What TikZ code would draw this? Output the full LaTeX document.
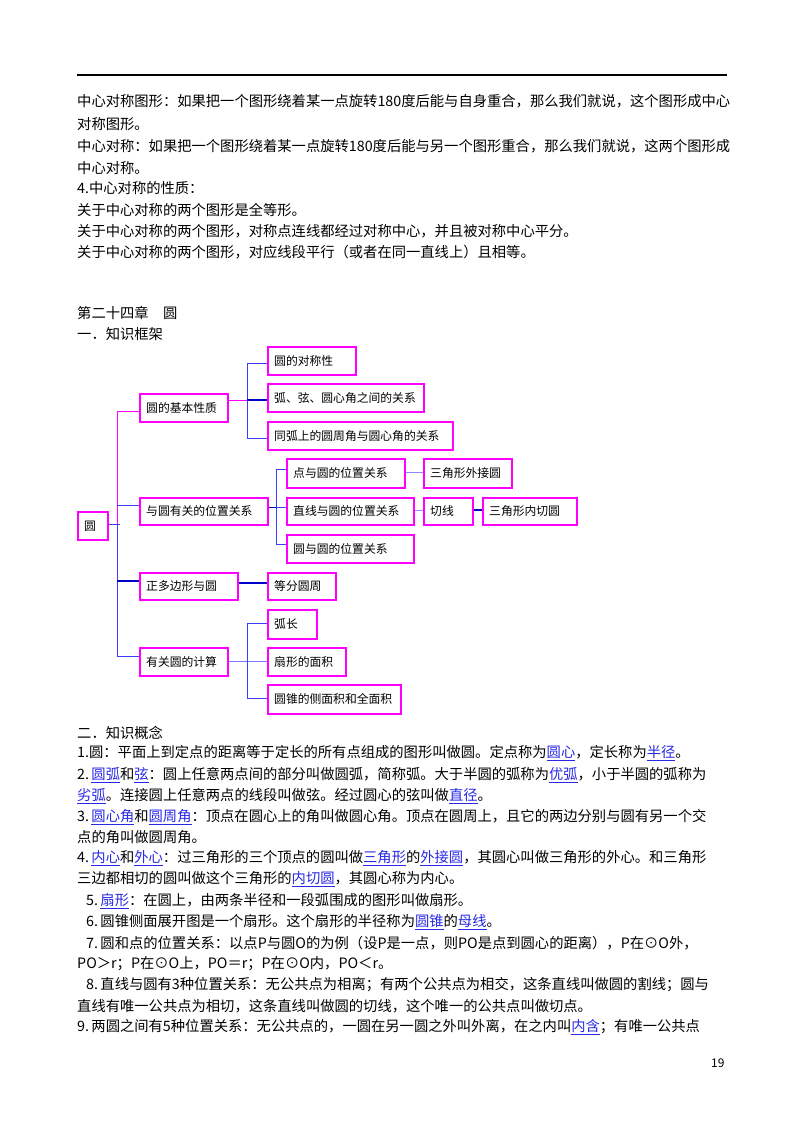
\documentclass[tikz,border=0pt]{standalone}
\usepackage{fontspec}
\setmainfont{Noto Sans CJK SC}
\newcommand{\lk}[1]{\textcolor{linkblue}{\underline{#1}}}
\definecolor{linkblue}{RGB}{40,40,230}
\definecolor{bx}{RGB}{255,0,255}
\definecolor{bl}{RGB}{60,60,255}
\definecolor{dbl}{RGB}{0,0,200}
\begin{document}
\begin{tikzpicture}[x=1pt,y=-1pt,
 ln/.style={anchor=west,inner sep=0pt,font=\fontsize{14.3}{15}\selectfont},
 bxs/.style={draw=bx,line width=1.5pt,anchor=north west,inner sep=0pt,font=\fontsize{12}{12}\selectfont},
 cb/.style={bl,line width=1pt},
 cp/.style={bx,line width=1pt}]
\useasboundingbox (0,0) rectangle (800,1132);
\fill[white] (0,0) rectangle (800,1132);
\draw[line width=1.2pt] (77,75) -- (727,75);
\node[ln] (t1) at (77,101) {中心对称图形：如果把一个图形绕着某一点旋转180度后能与自身重合，那么我们就说，这个图形成中心};
\node[ln] (t2) at (77,124) {对称图形。};
\node[ln] (t3) at (77,146) {中心对称：如果把一个图形绕着某一点旋转180度后能与另一个图形重合，那么我们就说，这两个图形成};
\node[ln] (t4) at (77,168) {中心对称。};
\node[ln] (t5) at (77,188) {4.中心对称的性质：};
\node[ln] (t6) at (77,210) {关于中心对称的两个图形是全等形。};
\node[ln] (t7) at (77,231) {关于中心对称的两个图形，对称点连线都经过对称中心，并且被对称中心平分。};
\node[ln] (t8) at (77,252) {关于中心对称的两个图形，对应线段平行（或者在同一直线上）且相等。};
\node[ln] (c1) at (77,313) {第二十四章\quad 圆};
\node[ln] (c2) at (77,334) {一．知识框架};
% boxes
\newcommand{\bxn}[6]{\node[bxs,minimum width=#4-#2,minimum height=#5-#3] (#1) at (#2,#3) {};
 \node[anchor=west,inner sep=0pt,font=\fontsize{11.8}{12}\selectfont] at ([xshift=7pt]#1.west) {#6};}
\bxn{y}{77}{511}{107}{539}{圆}
\bxn{a}{139}{393}{227}{421}{圆的基本性质}
\bxn{b}{139}{497}{267}{524}{与圆有关的位置关系}
\bxn{c}{139}{572}{237}{599}{正多边形与圆}
\bxn{d}{139}{647}{227}{675}{有关圆的计算}
\bxn{a1}{267}{346}{355}{374}{圆的对称性}
\bxn{a2}{267}{383}{423}{411}{弧、弦、圆心角之间的关系}
\bxn{a3}{267}{421}{452}{449}{同弧上的圆周角与圆心角的关系}
\bxn{b1}{286}{458}{404}{487}{点与圆的位置关系}
\bxn{b11}{423}{458}{511}{487}{三角形外接圆}
\bxn{b2}{286}{497}{413}{524}{直线与圆的位置关系}
\bxn{b21}{423}{497}{472}{524}{切线}
\bxn{b22}{482}{497}{576}{524}{三角形内切圆}
\bxn{b3}{286}{534}{413}{562}{圆与圆的位置关系}
\bxn{c1b}{267}{572}{335}{599}{等分圆周}
\bxn{d1}{267}{609}{316}{638}{弧长}
\bxn{d2}{267}{647}{345}{675}{扇形的面积}
\bxn{d3}{267}{684}{400}{713}{圆锥的侧面积和全面积}
% connectors
\coordinate (tk) at (117,524);
\draw[cb] (y.east |- tk) -- (120,524);
\draw[cp] (117,524) -- (117,411) -- (a.west |- 0,411);
\draw[cb] (117,524) -- (117,656) -- (d.west |- 0,656);
\draw[cb] (117,505) -- (b.west |- 0,505);
\draw[dbl,line width=1.2pt] (117,581) -- (c.west |- 0,581);
\draw[cp] (a.east |- 0,400) -- (247,400);
\draw[cb] (267,363) -- (247,363) -- (247,438) -- (267,438);
\draw[dbl,line width=1.2pt] (247,400) -- (a2.west |- 0,400);
\draw[dbl,line width=1pt] (b.east |- 0,507) -- (276,507);
\draw[cb] (b1.west |- 0,469) -- (276,469) -- (276,544) -- (b3.west |- 0,544);
\draw[cb] (276,507) -- (b2.west |- 0,507);
\draw[bl!60,line width=1pt] (b1.east |- 0,472) -- (b11.west |- 0,472);
\draw[bl!60,line width=1pt] (b2.east |- 0,510) -- (b21.west |- 0,510);
\draw[dbl,line width=1.2pt] (b21.east |- 0,510) -- (b22.west |- 0,510);
\draw[dbl,line width=1.2pt] (c.east |- 0,583) -- (c1b.west |- 0,583);
\draw[bl!70,line width=1pt] (d.east |- 0,661) -- (d2.west |- 0,661);
\draw[cb] (d1.west |- 0,623) -- (247,623) -- (247,698) -- (d3.west |- 0,698);
% concepts
\node[ln] (k0) at (77,733) {二．知识概念};
\node[ln] (k1) at (77,753) {1.圆：平面上到定点的距离等于定长的所有点组成的图形叫做圆。定点称为\lk{圆心}，定长称为\lk{半径}。};
\node[ln] (k2) at (77,775) {2.\,\lk{圆弧}和\lk{弦}：圆上任意两点间的部分叫做圆弧，简称弧。大于半圆的弧称为\lk{优弧}，小于半圆的弧称为};
\node[ln] (k3) at (77,796) {\lk{劣弧}。连接圆上任意两点的线段叫做弦。经过圆心的弦叫做\lk{直径}。};
\node[ln] (k4) at (77,817) {3.\,\lk{圆心角}和\lk{圆周角}：顶点在圆心上的角叫做圆心角。顶点在圆周上，且它的两边分别与圆有另一个交};
\node[ln] (k5) at (77,837) {点的角叫做圆周角。};
\node[ln] (k6) at (77,858) {4.\,\lk{内心}和\lk{外心}：过三角形的三个顶点的圆叫做\lk{三角形}的\lk{外接圆}，其圆心叫做三角形的外心。和三角形};
\node[ln] (k7) at (77,879) {三边都相切的圆叫做这个三角形的\lk{内切圆}，其圆心称为内心。};
\node[ln] (k8) at (86,901) {5.\,\lk{扇形}：在圆上，由两条半径和一段弧围成的图形叫做扇形。};
\node[ln] (k9) at (86,922) {6.\,圆锥侧面展开图是一个扇形。这个扇形的半径称为\lk{圆锥}的\lk{母线}。};
\node[ln] (k10) at (86,943) {7.\,圆和点的位置关系：以点P与圆O的为例（设P是一点，则PO是点到圆心的距离），P在⊙O外，};
\node[ln] (k11) at (77,964) {PO＞r；P在⊙O上，PO＝r；P在⊙O内，PO＜r。};
\node[ln] (k12) at (86,985) {8.\,直线与圆有3种位置关系：无公共点为相离；有两个公共点为相交，这条直线叫做圆的割线；圆与};
\node[ln] (k13) at (77,1006) {直线有唯一公共点为相切，这条直线叫做圆的切线，这个唯一的公共点叫做切点。};
\node[ln] (k14) at (77,1027) {9.\,两圆之间有5种位置关系：无公共点的，一圆在另一圆之外叫外离，在之内叫\lk{内含}；有唯一公共点};
\node[ln,font=\fontsize{12}{12}\selectfont] (pg) at (711,1063) {19};
\end{tikzpicture}
\end{document}
